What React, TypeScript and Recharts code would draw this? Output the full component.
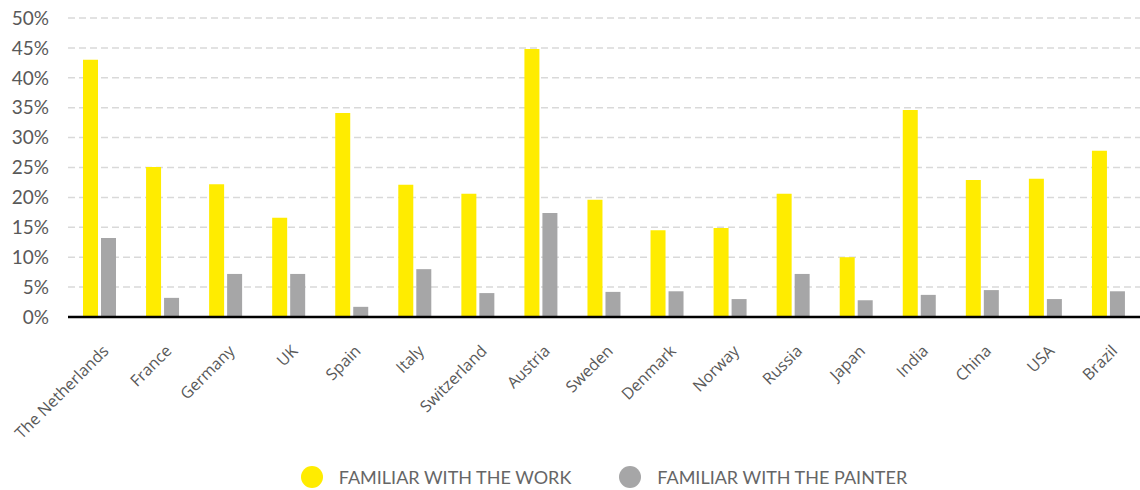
import { BarChart, Bar, XAxis, YAxis, CartesianGrid, Legend } from "recharts";

// countries on the x axis
const countries = [
  "The Netherlands",
  "France",
  "Germany",
  "UK",
  "Spain",
  "Italy",
  "Switzerland",
  "Austria",
  "Sweden",
  "Denmark",
  "Norway",
  "Russia",
  "Japan",
  "India",
  "China",
  "USA",
  "Brazil",
];

// % familiar with the work
const familiarWork = [
  43.0, 25.1, 22.2, 16.6, 34.1, 22.1, 20.6, 44.8, 19.6, 14.5, 14.9, 20.6, 10.0,
  34.6, 22.9, 23.1, 27.8,
];

// % familiar with the painter
const familiarPainter = [
  13.2, 3.2, 7.2, 7.2, 1.7, 8.0, 4.0, 17.4, 4.2, 4.3, 3.0, 7.2, 2.8, 3.7, 4.5,
  3.0, 4.3,
];

const yTicks = [0, 5, 10, 15, 20, 25, 30, 35, 40, 45, 50];

const seriesNames = ["FAMILIAR WITH THE WORK", "FAMILIAR WITH THE PAINTER"];
const YELLOW = "#FFEC00";
const GREY = "#A6A6A7";

const data = countries.map((name, i) => ({
  name,
  work: familiarWork[i],
  painter: familiarPainter[i],
}));

const CountryTick = (props: any) => {
  const { x, y, payload } = props;
  // anchor = end of the baseline, a bit right of and below the category centre
  return (
    <g transform={`translate(${x + 10},${y + 27})`}>
      <text
        x={0}
        y={0}
        textAnchor="end"
        transform="rotate(-45)"
        fill="#595959"
        fontSize={16}
        fontFamily="'Open Sans', sans-serif"
      >
        {payload.value}
      </text>
    </g>
  );
};

const LegendBox = () => (
  <div
    style={{
      display: "flex",
      justifyContent: "center",
      alignItems: "center",
      paddingTop: 16,
      paddingLeft: 68,
      fontFamily: "Lato, sans-serif",
      fontSize: 18,
      lineHeight: "22px",
      color: "#666",
    }}
  >
    {seriesNames.map((n, i) => (
      <div
        key={n}
        style={{ display: "flex", alignItems: "center", marginRight: i === 0 ? 48 : 0 }}
      >
        <span
          style={{
            width: 22,
            height: 22,
            borderRadius: "50%",
            background: i === 0 ? YELLOW : GREY,
            marginRight: 16,
            display: "inline-block",
          }}
        />
        {n}
      </div>
    ))}
  </div>
);

export default function App() {
  return (
    <div style={{ position: "absolute", left: 0, top: 0, background: "#fff" }}>
      <BarChart
        width={1140}
        height={490}
        data={data}
        margin={{ top: 18, right: 0, left: 0, bottom: 0 }}
        barSize={15}
        barGap={3}
      >
        <CartesianGrid
          vertical={false}
          stroke="#d9d9d9"
          strokeWidth={1.5}
          strokeDasharray="7 4"
        />
        <XAxis
          dataKey="name"
          interval={0}
          height={133}
          tickLine={false}
          axisLine={{ stroke: "#000", strokeWidth: 2.5 }}
          tick={<CountryTick />}
        />
        <YAxis
          width={68}
          domain={[0, 50]}
          ticks={yTicks}
          tickFormatter={(v) => `${v}%`}
          axisLine={false}
          tickLine={false}
          tickMargin={13}
          tick={{ fill: "#595959", fontSize: 19, fontFamily: "Lato, sans-serif" }}
        />
        <Legend verticalAlign="bottom" content={<LegendBox />} wrapperStyle={{ height: 40 }} />
        <Bar dataKey="work" name={seriesNames[0]} fill={YELLOW} isAnimationActive={false} />
        <Bar dataKey="painter" name={seriesNames[1]} fill={GREY} isAnimationActive={false} />
      </BarChart>
    </div>
  );
}
